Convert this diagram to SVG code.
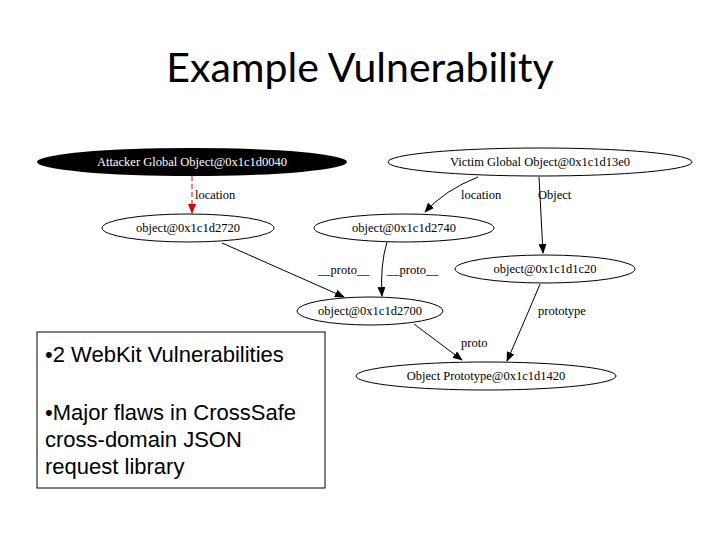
<svg xmlns="http://www.w3.org/2000/svg" width="720" height="540" viewBox="0 0 720 540">
<style>
.n{fill:#fff;stroke:#000;stroke-width:1}
.t{font-family:"Liberation Serif",serif;font-size:12.5px;text-anchor:middle}
.l{font-family:"Liberation Serif",serif;font-size:12.5px}
.e{fill:none;stroke:#000;stroke-width:1}
.b{font-family:"Liberation Sans",Arial,sans-serif;font-size:22px}
</style>
<defs>
<marker id="a" markerWidth="10" markerHeight="8" refX="9" refY="4" orient="auto" markerUnits="userSpaceOnUse"><path d="M0,0L10,4L0,8z" fill="#000"/></marker>
<marker id="r" markerWidth="10" markerHeight="8" refX="9" refY="4" orient="auto" markerUnits="userSpaceOnUse"><path d="M0,0L10,4L0,8z" fill="#e00000"/></marker>
</defs>
<rect width="720" height="540" fill="#fff"/>
<text x="360" y="82" font-family="Lato,'Open Sans',sans-serif" font-size="41" text-anchor="middle">Example Vulnerability</text>
<g id="connectors">
<path class="e" d="M192,176V213" style="stroke:#e00000" stroke-dasharray="5,3" marker-end="url(#r)"/>
<text class="l" x="195" y="199">location</text>
<path class="e" d="M478,177Q445,190 425,212" marker-end="url(#a)"/>
<text class="l" x="461" y="199">location</text>
<path class="e" d="M539,177L543,253" marker-end="url(#a)"/>
<text class="l" x="538" y="199">Object</text>
<path class="e" d="M387,242Q380,265 382,296" marker-end="url(#a)"/>
<text class="l" x="318" y="274">__proto__</text>
<text class="l" x="387" y="274">__proto__</text>
<path class="e" d="M222,243L344,297" marker-end="url(#a)"/>
<path class="e" d="M540,284Q525,320 507,361" marker-end="url(#a)"/>
<text class="l" x="538" y="315">prototype</text>
<path class="e" d="M414,324L462,360" marker-end="url(#a)"/>
<text class="l" x="461" y="347">proto</text>
</g>
<g id="attacker"><ellipse cx="192" cy="162" rx="155" ry="14" fill="#000"/><text class="t" x="192" y="166" fill="#fff">Attacker Global Object@0x1c1d0040</text></g>
<g id="victim"><ellipse class="n" cx="540" cy="162" rx="152" ry="14"/><text class="t" x="540" y="166">Victim Global Object@0x1c1d13e0</text></g>
<g id="o2720"><ellipse class="n" cx="188" cy="228" rx="86" ry="14"/><text class="t" x="188" y="232">object@0x1c1d2720</text></g>
<g id="o2740"><ellipse class="n" cx="404" cy="228" rx="90" ry="14"/><text class="t" x="404" y="232">object@0x1c1d2740</text></g>
<g id="o1c20"><ellipse class="n" cx="545" cy="269" rx="90" ry="14"/><text class="t" x="545" y="273">object@0x1c1d1c20</text></g>
<g id="o2700"><ellipse class="n" cx="370" cy="311" rx="73" ry="14"/><text class="t" x="370" y="315">object@0x1c1d2700</text></g>
<g id="oproto"><ellipse class="n" cx="486" cy="376" rx="130" ry="14"/><text class="t" x="486" y="380">Object Prototype@0x1c1d1420</text></g>
<g id="box">
<rect x="37" y="332" width="288" height="156" fill="#fff" stroke="#000"/>
<text class="b" x="45" y="362">•2 WebKit Vulnerabilities</text>
<text class="b" x="45" y="420">•Major flaws in CrossSafe</text>
<text class="b" x="45" y="447">cross-domain JSON</text>
<text class="b" x="45" y="474">request library</text>
</g>
</svg>
